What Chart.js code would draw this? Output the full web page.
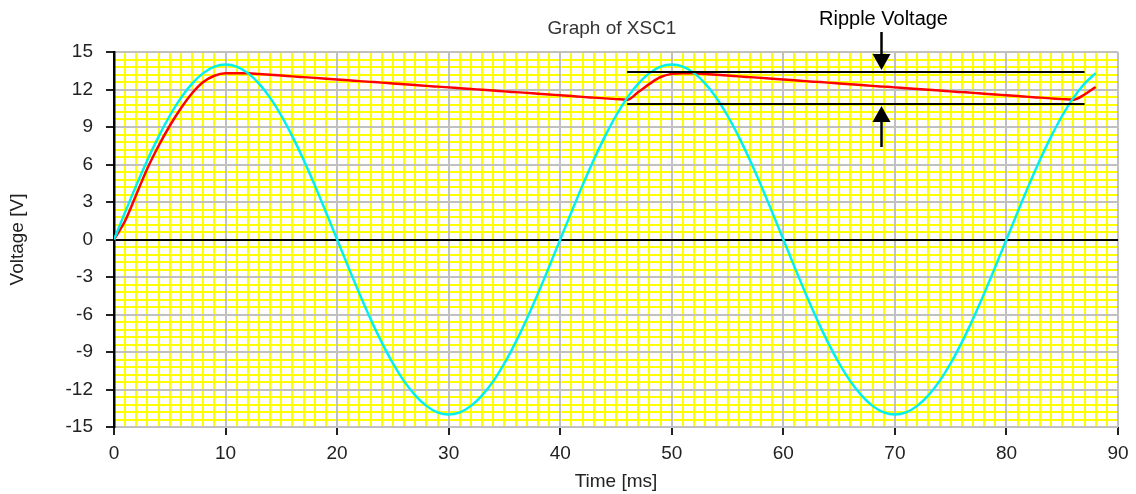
<!DOCTYPE html>
<html>
<head>
<meta charset="utf-8">
<script src="https://cdn.jsdelivr.net/npm/chart.js@4/dist/chart.umd.min.js"></script>
<style>
html, body { margin: 0; padding: 0; background: #fff; }
#wrap { width: 1136px; height: 494px; }
</style>
</head>
<body>
<div id="wrap"><canvas id="scope" width="1136" height="494"></canvas></div>
<script>
// sample times (ms)
const timeMs = [
  0, 1, 2, 3, 4, 5, 6, 7, 8, 9, 10, 11, 12, 13, 14, 15, 16, 17, 18, 19,
  20, 21, 22, 23, 24, 25, 26, 27, 28, 29, 30, 31, 32, 33, 34, 35, 36, 37, 38, 39,
  40, 41, 42, 43, 44, 45, 46, 47, 48, 49, 50, 51, 52, 53, 54, 55, 56, 57, 58, 59,
  60, 61, 62, 63, 64, 65, 66, 67, 68, 69, 70, 71, 72, 73, 74, 75, 76, 77, 78, 79,
  80, 81, 82, 83, 84, 85, 86, 87, 88
];

// transformer secondary (cyan)
const inputVolts = [
  0, 2.19, 4.33, 6.36, 8.23, 9.9, 11.33, 12.47, 13.31, 13.83, 14.0,
  13.83, 13.31, 12.47, 11.33, 9.9, 8.23, 6.36, 4.33, 2.19, 0,
  -2.19, -4.33, -6.36, -8.23, -9.9, -11.33, -12.47, -13.31, -13.83, -14.0,
  -13.83, -13.31, -12.47, -11.33, -9.9, -8.23, -6.36, -4.33, -2.19, 0,
  2.19, 4.33, 6.36, 8.23, 9.9, 11.33, 12.47, 13.31, 13.83, 14.0,
  13.83, 13.31, 12.47, 11.33, 9.9, 8.23, 6.36, 4.33, 2.19, 0,
  -2.19, -4.33, -6.36, -8.23, -9.9, -11.33, -12.47, -13.31, -13.83, -14.0,
  -13.83, -13.31, -12.47, -11.33, -9.9, -8.23, -6.36, -4.33, -2.19, 0,
  2.19, 4.33, 6.36, 8.23, 9.9, 11.33, 12.47, 13.31
];

// capacitor voltage (red)
const outputVolts = [
  0, 1.5, 3.6, 5.7, 7.5, 9.1, 10.5, 11.7, 12.6, 13.1, 13.3, 13.3, 13.3,
  13.24, 13.18, 13.12, 13.05, 12.99, 12.93, 12.86, 12.8, 12.74, 12.67, 12.61, 12.55,
  12.48, 12.42, 12.36, 12.29, 12.23, 12.17, 12.1, 12.04, 11.98, 11.92, 11.85, 11.79,
  11.73, 11.66, 11.6, 11.54, 11.48, 11.41, 11.35, 11.29, 11.23, 11.18,
  11.8, 12.45, 13.0, 13.25, 13.3, 13.3,
  13.24, 13.18, 13.12, 13.05, 12.99, 12.93, 12.86, 12.8, 12.74, 12.67, 12.61, 12.55,
  12.48, 12.42, 12.36, 12.29, 12.23, 12.17, 12.1, 12.04, 11.98, 11.92, 11.85, 11.79,
  11.73, 11.66, 11.6, 11.54, 11.48, 11.41, 11.35, 11.29, 11.23, 11.18,
  11.6, 12.2
];

const xTickLabels = [0, 10, 20, 30, 40, 50, 60, 70, 80, 90];
const yTickLabels = [-15, -12, -9, -6, -3, 0, 3, 6, 9, 12, 15];

// ripple markers: [top, bottom] levels (V), start/end time (ms), arrow time (ms)
const rippleLevels = [13.4, 10.85];
const rippleSpan = [46, 87];
const arrowTime = 68.8;
const arrowTails = [16.6, 7.4];

const FONT = '"Liberation Sans", Arial, sans-serif';
Chart.defaults.font.family = FONT;

function pts(xs, ys) {
  return xs.map((t, i) => ({ x: t, y: ys[i] }));
}

function drawArrow(ctx, x, yFrom, yTo) {
  const dir = Math.sign(yTo - yFrom);
  const tip = yTo - dir * 2;
  const head = 16;
  ctx.beginPath();
  ctx.moveTo(x, yFrom);
  ctx.lineTo(x, tip - dir * head);
  ctx.stroke();
  ctx.beginPath();
  ctx.moveTo(x, tip);
  ctx.lineTo(x - 9, tip - dir * head);
  ctx.lineTo(x + 9, tip - dir * head);
  ctx.closePath();
  ctx.fill();
}

const overlay = {
  id: 'overlay',
  afterDraw(chart) {
    const { ctx, scales } = chart;
    const ax = scales.x.getPixelForValue(arrowTime);
    ctx.save();
    ctx.strokeStyle = '#000';
    ctx.fillStyle = '#000';
    ctx.lineWidth = 2.5;
    drawArrow(ctx, ax, scales.y.getPixelForValue(arrowTails[0]), scales.y.getPixelForValue(rippleLevels[0]));
    drawArrow(ctx, ax, scales.y.getPixelForValue(arrowTails[1]), scales.y.getPixelForValue(rippleLevels[1]));

    ctx.textAlign = 'center';
    ctx.textBaseline = 'middle';
    ctx.font = '20px ' + FONT;
    ctx.fillText('Ripple Voltage', ax + 2, 19);

    ctx.fillStyle = '#333';
    ctx.font = '19px ' + FONT;
    ctx.fillText('Graph of XSC1', 612, 29);
    ctx.restore();
  }
};

const isTick = (list, v) => list.some(l => Math.abs(l - v) < 1e-6);

new Chart(document.getElementById('scope'), {
  type: 'line',
  data: {
    datasets: [
      {
        data: pts(rippleSpan, [rippleLevels[0], rippleLevels[0]]),
        borderColor: '#000', borderWidth: 2, pointRadius: 0, order: 0
      },
      {
        data: pts(rippleSpan, [rippleLevels[1], rippleLevels[1]]),
        borderColor: '#000', borderWidth: 2, pointRadius: 0, order: 0
      },
      {
        label: 'Input',
        data: pts(timeMs, inputVolts),
        borderColor: '#00f0f0', borderWidth: 2.5, pointRadius: 0,
        cubicInterpolationMode: 'monotone', order: 1
      },
      {
        label: 'Output',
        data: pts(timeMs, outputVolts),
        borderColor: '#ff0000', borderWidth: 2.5, pointRadius: 0,
        cubicInterpolationMode: 'monotone', order: 2
      }
    ]
  },
  options: {
    responsive: false,
    animation: false,
    events: [],
    layout: { padding: { top: 52, right: 18, left: 0, bottom: 0 } },
    plugins: { legend: { display: false }, tooltip: { enabled: false } },
    scales: {
      xMinor: {
        type: 'linear', position: 'bottom', min: 0, max: 90,
        ticks: { stepSize: 1, display: false, autoSkip: false },
        grid: { color: '#ffff00', lineWidth: 2, drawTicks: false, z: -2 },
        border: { display: false },
        afterFit: s => { s.height = 0; }
      },
      yMinor: {
        type: 'linear', position: 'left', min: -15, max: 15,
        ticks: { stepSize: 0.6, display: false, autoSkip: false },
        grid: { color: '#ffff00', lineWidth: 2, drawTicks: false, z: -2 },
        border: { display: false },
        afterFit: s => { s.width = 0; }
      },
      x: {
        type: 'linear', position: 'bottom', min: 0, max: 90,
        ticks: {
          stepSize: 10, autoSkip: false, maxRotation: 0, padding: 7,
          color: '#222', font: { size: 19 },
          callback: v => isTick(xTickLabels, v) ? String(v) : ''
        },
        grid: { color: '#c0c0c0', lineWidth: 2, tickLength: 8, tickColor: '#222', tickWidth: 2 },
        border: { display: false },
        title: { display: true, text: 'Time [ms]', color: '#222', font: { size: 19 }, padding: { top: 0, bottom: 1 } },
        afterFit: s => { s.height = 67; }
      },
      y: {
        type: 'linear', position: 'left', min: -15, max: 15,
        ticks: {
          stepSize: 3, autoSkip: false, padding: 13,
          color: '#222', font: { size: 19 },
          callback: v => isTick(yTickLabels, v) ? String(Math.round(v)) : ''
        },
        grid: {
          color: c => (c.tick && Math.abs(c.tick.value) < 1e-6) ? '#000' : '#c0c0c0',
          lineWidth: 2, tickLength: 8, tickColor: '#222', tickWidth: 2
        },
        border: { color: '#000', width: 2.5 },
        title: { display: true, text: 'Voltage [V]', color: '#222', font: { size: 19 }, padding: { top: 6, bottom: 0 } },
        afterFit: s => { s.width = 114; }
      }
    }
  },
  plugins: [overlay]
});
</script>
</body>
</html>
